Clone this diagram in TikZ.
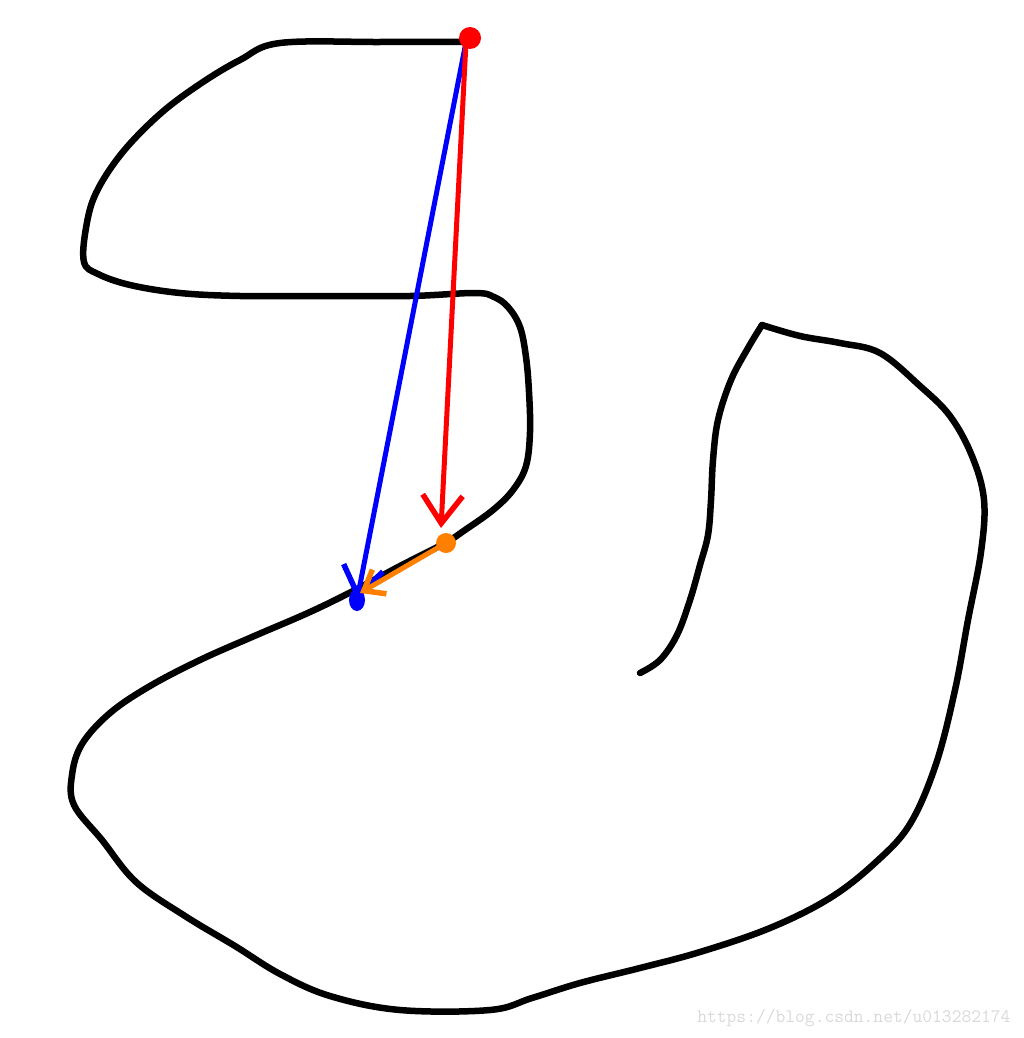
\documentclass[tikz,border=0pt]{standalone}
\usetikzlibrary{arrows.meta}
\tikzset{
  stroke/.style={line width=6.5pt, line cap=round, line join=round},
  pen/.style={line width=5pt, line cap=round, line join=round},
  barb/.style={-{Straight Barb[length=28pt,width=40pt,line width=5.5pt]}},
}
\begin{document}
\begin{tikzpicture}[x=1pt,y=-1pt]
\useasboundingbox (0,0) rectangle (1024,1038);
% black outline
\draw[stroke] plot[smooth, tension=0.6] coordinates {
 (465,42) (380,42) (280,43) (240,60) (200,84) (160,114) (122,153) (96,193) (86,228) (84,262)
 (98,274) (130,285) (180,293) (240,296) (320,296) (410,296) (475,293) (494,297) (508,307)
 (520,327) (526,357) (529,392) (530,432) (526,466) (513,490) (493,510) (465,530) (445,543)
 (400,566) (355,590) (310,612) (252,637) (200,660) (150,686) (110,713) (82,744) (72,775)
 (74,805) (102,840) (136,882) (185,916) (235,946) (280,974) (330,996) (400,1010) (490,1010)
 (532,998) (580,983) (640,968) (700,952) (770,928) (830,898) (876,862) (910,824) (936,764)
 (955,690) (968,620) (981,552) (984,500) (972,456) (950,416) (920,386) (880,353) (840,343)
 (800,336) (762,325)};
\draw[stroke] plot[smooth, tension=0.6] coordinates {
 (762,325) (748,348) (731,380) (718,420) (713,460) (711,500) (708,535) (700,565) (690,600)
 (677,635) (660,660) (640,673)};
% points
\coordinate (P) at (466,42);
\coordinate (Rt) at (441,528);
\coordinate (Q) at (446,543);
\coordinate (B) at (357,600);
\coordinate (Ot) at (360,593);
% blue arrow
\draw[pen, blue, barb] (P) -- (B);
\fill[blue] (357,600) ellipse (8pt and 11pt);
% red arrow
\draw[pen, red, barb] (P) -- (Rt);
\fill[red] (470,38) circle (11pt);
% orange arrow
\draw[pen, orange, -{Straight Barb[length=18pt,width=28pt,line width=5.5pt]}] (Q) -- (Ot);
\fill[orange] (Q) circle (10pt);
% watermark
\node[text=black!15, font=\ttfamily\fontsize{19}{19}\selectfont, anchor=east] (wm) at (1014,1018) {https://blog.csdn.net/u013282174};
\end{tikzpicture}
\end{document}
